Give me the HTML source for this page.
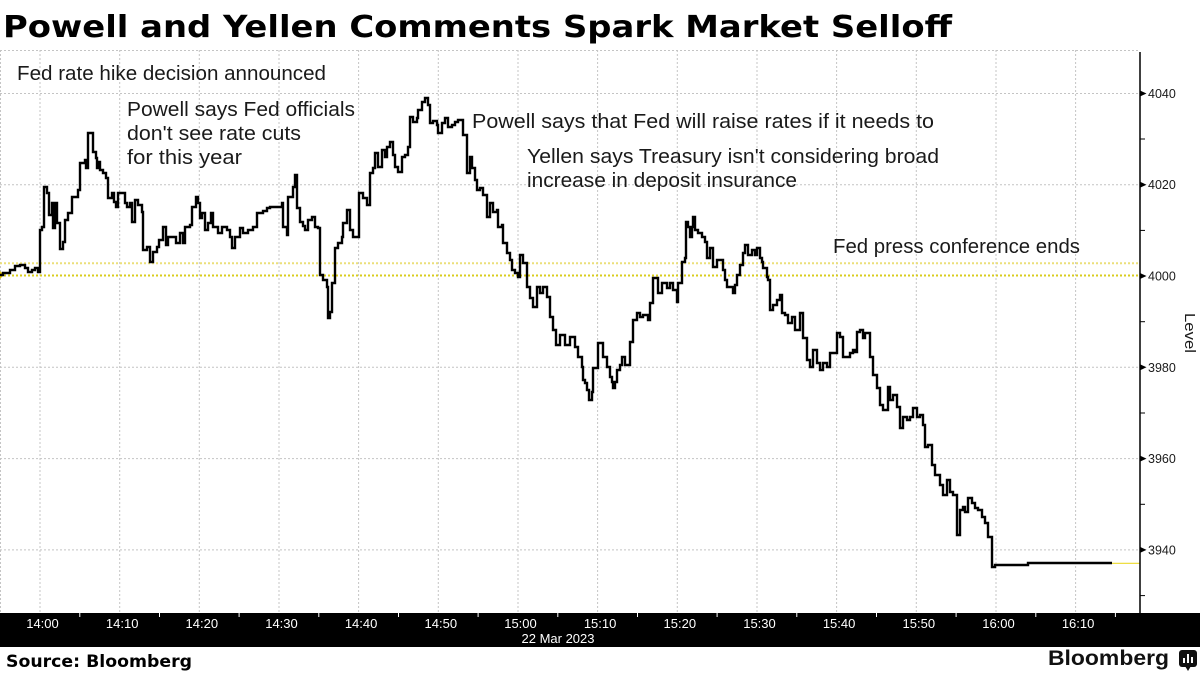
<!DOCTYPE html>
<html>
<head>
<meta charset="utf-8">
<style>
  html, body { margin:0; padding:0; background:#ffffff; }
  body { width:1200px; height:675px; overflow:hidden; }
  svg { display:block; }
</style>
</head>
<body>
<svg width="1200" height="675" viewBox="0 0 1200 675" xmlns="http://www.w3.org/2000/svg">
  <rect x="0" y="0" width="1200" height="675" fill="#ffffff"/>

  <!-- Title -->
  <text x="3" y="37" font-family="DejaVu Sans, Liberation Sans, sans-serif" font-weight="bold" font-size="30.5" fill="#000" textLength="949" lengthAdjust="spacingAndGlyphs">Powell and Yellen Comments Spark Market Selloff</text>

  <!-- Gridlines -->
  <g stroke="#c4c4c4" stroke-width="1" stroke-dasharray="2,2" fill="none">
    <line x1="0.5" y1="50" x2="0.5" y2="613"/>
    <line x1="0" y1="50.5" x2="1140" y2="50.5"/>
    <line x1="40" y1="50" x2="40" y2="613"/>
    <line x1="119.7" y1="50" x2="119.7" y2="613"/>
    <line x1="199.3" y1="50" x2="199.3" y2="613"/>
    <line x1="279" y1="50" x2="279" y2="613"/>
    <line x1="358.6" y1="50" x2="358.6" y2="613"/>
    <line x1="438.3" y1="50" x2="438.3" y2="613"/>
    <line x1="518" y1="50" x2="518" y2="613"/>
    <line x1="597.6" y1="50" x2="597.6" y2="613"/>
    <line x1="677.3" y1="50" x2="677.3" y2="613"/>
    <line x1="757" y1="50" x2="757" y2="613"/>
    <line x1="836.6" y1="50" x2="836.6" y2="613"/>
    <line x1="916.3" y1="50" x2="916.3" y2="613"/>
    <line x1="996" y1="50" x2="996" y2="613"/>
    <line x1="1075.6" y1="50" x2="1075.6" y2="613"/>
    <line x1="0" y1="93.5" x2="1140" y2="93.5"/>
    <line x1="0" y1="184.7" x2="1140" y2="184.7"/>
    <line x1="0" y1="367.3" x2="1140" y2="367.3"/>
    <line x1="0" y1="458.6" x2="1140" y2="458.6"/>
    <line x1="0" y1="549.9" x2="1140" y2="549.9"/>
  </g>

  <!-- Yellow dotted reference lines -->
  <line x1="0" y1="263.2" x2="1140" y2="263.2" stroke="#ebdf7a" stroke-width="2" stroke-dasharray="2,2"/>
  <line x1="0" y1="275.5" x2="1140" y2="275.5" stroke="#d9cc1e" stroke-width="2" stroke-dasharray="2,2"/>

  <!-- Annotations -->
  <g font-family="Liberation Sans, sans-serif" font-size="20" fill="#1a1a1a">
    <text x="17" y="80" textLength="309" lengthAdjust="spacingAndGlyphs">Fed rate hike decision announced</text>
    <text x="127" y="116" textLength="228" lengthAdjust="spacingAndGlyphs">Powell says Fed officials</text>
    <text x="127" y="140" textLength="174" lengthAdjust="spacingAndGlyphs">don't see rate cuts</text>
    <text x="127" y="164" textLength="115" lengthAdjust="spacingAndGlyphs">for this year</text>
    <text x="472" y="128" textLength="462" lengthAdjust="spacingAndGlyphs">Powell says that Fed will raise rates if it needs to</text>
    <text x="527" y="163" textLength="412" lengthAdjust="spacingAndGlyphs">Yellen says Treasury isn't considering broad</text>
    <text x="527" y="187" textLength="270" lengthAdjust="spacingAndGlyphs">increase in deposit insurance</text>
    <text x="833" y="253" textLength="247" lengthAdjust="spacingAndGlyphs">Fed press conference ends</text>
  </g>

  <!-- Start marker -->
  <polygon points="0,271 4,275 0,279" fill="#e6c800"/>

  <!-- Series -->
  <path fill="none" stroke="#000" stroke-width="2.4" stroke-linejoin="miter" d="M0 275 H3 V273 H10 V270 H15 V266 H20 V265 H25 V268 H28 V272 H32 V270 H35 V268 H38 V272 H40 V230 H42 V227 H44 V187 H47 V193 H49 V215 H52 V203 H53 V228 H55 V203 H57 V223 H60 V249 H63 V242 H65 V220 H68 V213 H72 V197 H78 V190 H80 V163 H85 V160 H86 V168 H88 V133 H93 V152 H96 V158 H97 V168 H99 V162 H100 V170 H103 V173 H106 V178 H108 V198 H112 V193 H114 V202 H116 V207 H118 V193 H125 V203 H127 V207 H130 V203 H132 V222 H135 V200 H138 V205 H142 V212 H143 V250 H147 V247 H150 V262 H153 V252 H157 V247 H159 V240 H163 V227 H166 V245 H168 V237 H176 V243 H180 V233 H183 V243 H185 V227 H190 V225 H192 V207 H196 V197 H198 V203 H200 V218 H202 V213 H205 V230 H208 V223 H211 V213 H213 V227 H218 V233 H222 V227 H227 V230 H230 V237 H232 V248 H235 V237 H240 V228 H243 V233 H248 V230 H253 V227 H257 V213 H263 V211 H267 V208 H270 V207 H282 V203 H283 V227 H287 V235 H288 V197 H293 V187 H295 V175 H297 V208 H300 V222 H303 V226 H305 V230 H308 V220 H312 V217 H315 V227 H318 V228 H320 V275 H323 V280 H327 V287 H328 V318 H330 V312 H332 V283 H335 V248 H338 V243 H342 V237 H343 V223 H347 V210 H350 V230 H353 V237 H359 V193 H363 V198 H367 V205 H370 V173 H373 V168 H375 V153 H378 V167 H382 V150 H385 V157 H387 V147 H390 V142 H393 V155 H395 V167 H398 V172 H402 V157 H405 V155 H408 V147 H410 V117 H413 V122 H417 V118 H418 V110 H422 V102 H425 V98 H428 V105 H430 V123 H433 V121 H437 V125 H438 V133 H442 V123 H445 V118 H448 V127 H452 V125 H455 V122 H458 V120 H463 V135 H467 V173 H470 V157 H472 V168 H475 V180 H477 V190 H480 V188 H483 V195 H487 V217 H490 V203 H493 V212 H497 V210 H498 V227 H502 V225 H503 V243 H507 V253 H510 V260 H512 V270 H515 V273 H518 V277 H520 V255 H523 V263 H527 V287 H530 V298 H533 V307 H537 V287 H540 V293 H543 V287 H547 V297 H550 V317 H553 V330 H556 V345 H560 V335 H565 V345 H570 V337 H575 V347 H578 V357 H582 V367 H583 V380 H585 V383 H587 V390 H589 V400 H592 V392 H593 V368 H598 V343 H603 V357 H607 V367 H610 V377 H612 V382 H613 V388 H615 V382 H617 V370 H620 V365 H622 V357 H625 V365 H630 V342 H633 V320 H637 V313 H640 V317 H643 V315 H648 V320 H650 V303 H653 V278 H658 V293 H662 V283 H667 V288 H670 V283 H673 V290 H677 V302 H678 V283 H682 V262 H685 V258 H686 V222 H688 V227 H690 V237 H692 V227 H693 V217 H695 V230 H698 V233 H702 V237 H705 V242 H707 V258 H710 V248 H713 V267 H717 V260 H723 V270 H725 V280 H727 V287 H733 V293 H735 V285 H737 V275 H740 V265 H743 V253 H745 V245 H748 V255 H752 V250 H755 V255 H757 V248 H760 V258 H762 V262 H763 V268 H767 V277 H768 V280 H770 V310 H773 V305 H777 V300 H780 V295 H782 V313 H785 V315 H788 V323 H792 V317 H795 V330 H800 V313 H803 V338 H807 V360 H810 V367 H813 V350 H817 V363 H820 V370 H823 V363 H827 V367 H830 V353 H837 V333 H840 V337 H843 V357 H850 V353 H853 V350 H855 V352 H857 V332 H860 V330 H863 V338 H865 V333 H870 V357 H873 V375 H877 V388 H880 V405 H883 V410 H888 V387 H890 V400 H893 V395 H897 V407 H900 V428 H903 V417 H907 V420 H910 V417 H913 V408 H917 V417 H920 V415 H923 V425 H925 V447 H928 V445 H932 V465 H935 V475 H940 V485 H943 V495 H947 V480 H950 V492 H953 V495 H957 V535 H960 V510 H963 V507 H965 V512 H968 V498 H972 V503 H975 V508 H978 V510 H982 V517 H985 V523 H988 V537 H992 V567 H995 V565 H1028 V563 H1112"/>
  <line x1="1112" y1="563.3" x2="1140" y2="563.3" stroke="#ecd92a" stroke-width="1.2"/>

  <!-- Right axis -->
  <line x1="1140" y1="52" x2="1140" y2="613" stroke="#000" stroke-width="1.5"/>
  <g fill="#000">
    <polygon points="1140,90.5 1146.5,93.5 1140,96.5"/>
    <polygon points="1140,181.7 1146.5,184.7 1140,187.7"/>
    <polygon points="1140,273 1146.5,276 1140,279"/>
    <polygon points="1140,364.3 1146.5,367.3 1140,370.3"/>
    <polygon points="1140,455.6 1146.5,458.6 1140,461.6"/>
    <polygon points="1140,546.9 1146.5,549.9 1140,552.9"/>
  </g>
  <g stroke="#000" stroke-width="1">
    <line x1="1140" y1="139" x2="1145" y2="139"/>
    <line x1="1140" y1="230.4" x2="1145" y2="230.4"/>
    <line x1="1140" y1="321.7" x2="1145" y2="321.7"/>
    <line x1="1140" y1="413" x2="1145" y2="413"/>
    <line x1="1140" y1="504.3" x2="1145" y2="504.3"/>
    <line x1="1140" y1="595.6" x2="1145" y2="595.6"/>
  </g>
  <g font-family="Liberation Sans, sans-serif" font-size="12.5" fill="#1a1a1a">
    <text x="1148" y="98">4040</text>
    <text x="1148" y="189.2">4020</text>
    <text x="1148" y="280.5">4000</text>
    <text x="1148" y="371.8">3980</text>
    <text x="1148" y="463.1">3960</text>
    <text x="1148" y="554.4">3940</text>
  </g>
  <text transform="translate(1185,313) rotate(90)" x="0" y="0" font-family="Liberation Sans, sans-serif" font-size="15" fill="#1a1a1a" textLength="40" lengthAdjust="spacingAndGlyphs">Level</text>

  <!-- Bottom axis bar -->
  <rect x="0" y="613" width="1200" height="34" fill="#000"/>
  <g stroke="#ffffff" stroke-width="1">
    <line x1="79.8" y1="613" x2="79.8" y2="617"/>
    <line x1="159.5" y1="613" x2="159.5" y2="617"/>
    <line x1="239.1" y1="613" x2="239.1" y2="617"/>
    <line x1="318.8" y1="613" x2="318.8" y2="617"/>
    <line x1="398.5" y1="613" x2="398.5" y2="617"/>
    <line x1="478.1" y1="613" x2="478.1" y2="617"/>
    <line x1="557.8" y1="613" x2="557.8" y2="617"/>
    <line x1="637.5" y1="613" x2="637.5" y2="617"/>
    <line x1="717.1" y1="613" x2="717.1" y2="617"/>
    <line x1="796.8" y1="613" x2="796.8" y2="617"/>
    <line x1="876.5" y1="613" x2="876.5" y2="617"/>
    <line x1="956.1" y1="613" x2="956.1" y2="617"/>
    <line x1="1035.8" y1="613" x2="1035.8" y2="617"/>
    <line x1="1115.4" y1="613" x2="1115.4" y2="617"/>
  </g>
  <g font-family="Liberation Sans, sans-serif" font-size="13" fill="#ffffff" text-anchor="middle">
    <text x="42.5" y="628">14:00</text>
    <text x="122.2" y="628">14:10</text>
    <text x="201.8" y="628">14:20</text>
    <text x="281.5" y="628">14:30</text>
    <text x="361.1" y="628">14:40</text>
    <text x="440.8" y="628">14:50</text>
    <text x="520.5" y="628">15:00</text>
    <text x="600.1" y="628">15:10</text>
    <text x="679.8" y="628">15:20</text>
    <text x="759.5" y="628">15:30</text>
    <text x="839.1" y="628">15:40</text>
    <text x="918.8" y="628">15:50</text>
    <text x="998.5" y="628">16:00</text>
    <text x="1078.1" y="628">16:10</text>
    <text x="558" y="643">22 Mar 2023</text>
  </g>

  <!-- Footer -->
  <text x="6" y="667" font-family="DejaVu Sans, Liberation Sans, sans-serif" font-weight="bold" font-size="16.5" fill="#000" textLength="186" lengthAdjust="spacingAndGlyphs">Source: Bloomberg</text>
  <text x="1048" y="665" font-family="Liberation Sans, sans-serif" font-weight="bold" font-size="21" fill="#111" textLength="121" lengthAdjust="spacingAndGlyphs">Bloomberg</text>
  <rect x="1179" y="650" width="18" height="17" rx="3" fill="#111"/>
  <polygon points="1185,666 1191,666 1188,671" fill="#111"/>
  <g fill="#ffffff">
    <rect x="1183" y="658" width="2" height="5"/>
    <rect x="1187" y="654" width="2" height="9"/>
    <rect x="1191" y="657" width="2" height="6"/>
  </g>
</svg>
</body>
</html>
